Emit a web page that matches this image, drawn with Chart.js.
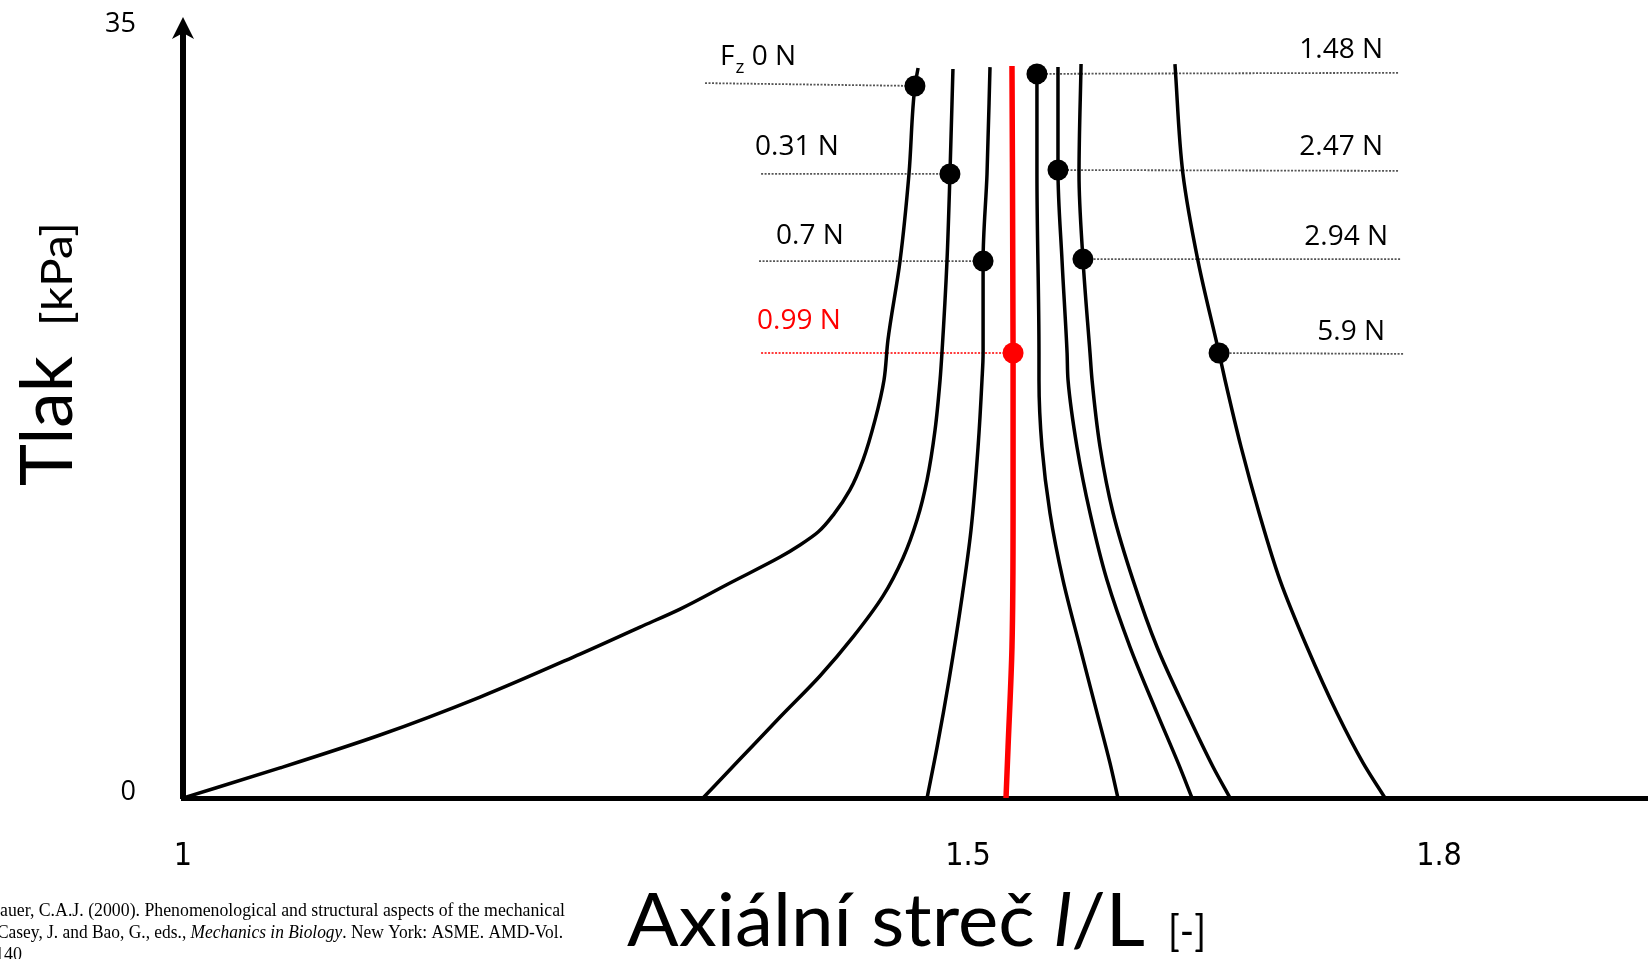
<!DOCTYPE html>
<html>
<head>
<meta charset="utf-8">
<script src="https://cdn.jsdelivr.net/npm/chart.js@4.4.1/dist/chart.umd.min.js"></script>
<style>
  html, body { margin: 0; padding: 0; background: #fff; overflow: hidden; }
  #wrap { position: relative; width: 1648px; height: 959px; }
</style>
</head>
<body>
<div id="wrap"><canvas id="chart" width="1648" height="959"></canvas></div>
<script>
// --- Data (axial stretch l/L, pressure kPa) ---
const xTicks = [1, 1.5, 1.8];
const yTicks = [0, 35];

const curveF0 = [[1.0000,0],[1.0618,1.37],[1.1255,2.87],[1.1892,4.60],[1.2529,6.56],[1.2911,7.79],[1.3166,8.61],
  [1.3484,9.80],[1.3803,10.98],[1.3930,11.53],[1.4045,12.12],[1.4146,12.94],[1.4248,14.04],[1.4331,15.40],
  [1.4408,17.23],[1.4465,19.05],[1.4490,20.87],[1.4567,24.47],[1.4624,28.44],[1.4662,32.45],[1.4682,33.27]];
const curveF031 = [[1.3312,0],[1.3554,1.82],[1.3803,3.69],[1.4057,5.56],[1.4268,7.34],[1.4459,9.21],[1.4586,10.94],
  [1.4675,12.67],[1.4739,14.49],[1.4790,16.77],[1.4822,19.05],[1.4834,20.28],[1.4866,24.47],[1.4885,28.44],[1.4904,33.22]];
const curveF07 = [[1.4739,0],[1.4803,2.32],[1.4879,5.38],[1.4962,9.16],[1.5019,12.21],[1.5064,16.00],[1.5089,19.05],
  [1.5096,20.28],[1.5096,24.47],[1.5121,28.44],[1.5140,33.31]];
const curveF099 = [[1.5242,0],[1.5255,2.32],[1.5280,6.88],[1.5287,12.99],[1.5287,20.28],[1.5280,33.36]];
const curveF148 = [[1.5955,0],[1.5904,1.60],[1.5822,3.87],[1.5713,6.88],[1.5605,9.93],[1.5522,12.99],[1.5471,16.00],
  [1.5452,19.05],[1.5452,20.28],[1.5439,28.44],[1.5439,33.00]];
const curveF247 = [[1.6427,0],[1.6338,1.60],[1.6204,3.87],[1.6032,6.88],[1.5885,9.93],[1.5777,12.99],[1.5694,16.00],
  [1.5637,19.05],[1.5631,20.28],[1.5599,24.47],[1.5573,28.62],[1.5573,33.31]];
const curveF294 = [[1.6669,0],[1.6561,1.41],[1.6395,3.87],[1.6204,6.88],[1.6051,9.93],[1.5924,12.99],[1.5841,16.00],
  [1.5790,19.05],[1.5777,20.28],[1.5732,24.56],[1.5707,28.44],[1.5720,33.45]];
const curveF59 = [[1.7656,0],[1.7516,1.60],[1.7350,3.87],[1.7159,6.88],[1.6987,9.93],[1.6854,12.99],[1.6739,16.00],
  [1.6637,19.05],[1.6599,20.28],[1.6465,24.47],[1.6369,28.44],[1.6318,33.45]];

const forceLabels = ['0 N', '0.31 N', '0.7 N', '0.99 N', '1.48 N', '2.47 N', '2.94 N', '5.9 N'];
const markerX = [1.4662, 1.4885, 1.5096, 1.5287, 1.5439, 1.5573, 1.5732, 1.6599];
const markerY = [32.45, 28.44, 24.47, 20.28, 33.00, 28.62, 24.56, 20.28];
// far end of each dotted line (the other end is the marker)
const guideFarX = [1.3325, 1.3682, 1.3669, 1.3682, 1.7739, 1.7739, 1.7752, 1.7771];
const guideFarY = [32.58, 28.44, 24.47, 20.28, 33.05, 28.58, 24.56, 20.24];

// --- styling / layout ---
const RED = '#ff0000';
const curves = [curveF0, curveF031, curveF07, curveF099, curveF148, curveF247, curveF294, curveF59];
const isRed = i => i === 3;
const labelDx = [15, -6, 17, -4, -15, -15, -12, -18];
const labelDy = [-18, -19, -17, -24, -15, -16, -14, -14];

const datasets = [];
datasets.push({
  data: markerX.map((x, i) => ({ x, y: markerY[i] })),
  showLine: false,
  pointRadius: 10.5,
  pointBackgroundColor: markerX.map((_, i) => isRed(i) ? RED : '#000'),
  pointBorderWidth: 0,
  order: 0
});
curves.forEach((c, i) => {
  datasets.push({
    data: c.map(p => ({ x: p[0], y: p[1] })),
    indexAxis: 'y',
    showLine: true,
    borderColor: isRed(i) ? RED : '#000',
    borderWidth: isRed(i) ? 5.5 : 3.5,
    pointRadius: 0,
    cubicInterpolationMode: 'monotone',
    order: isRed(i) ? 1 : 2
  });
});
markerX.forEach((x, i) => {
  datasets.push({
    data: [{ x: guideFarX[i], y: guideFarY[i] }, { x, y: markerY[i] }],
    showLine: true,
    borderColor: isRed(i) ? '#ff3a3a' : '#555',
    borderWidth: 1.8,
    borderDash: [2, 1.5],
    pointRadius: 0,
    tension: 0,
    order: 3
  });
});

function fitText(ctx, text, x, y, width) {
  const w = ctx.measureText(text).width;
  ctx.save();
  ctx.translate(x, y);
  ctx.scale(width / w, 1);
  ctx.fillText(text, 0, 0);
  ctx.restore();
}

const texts = {
  id: 'texts',
  afterDraw(chart) {
    const ctx = chart.ctx;
    const xs = chart.scales.x, ys = chart.scales.y;
    const top = chart.chartArea.top;
    const ax = xs.getPixelForValue(1);
    ctx.save();
    ctx.fillStyle = '#000';

    // arrow head on the pressure axis
    ctx.beginPath();
    ctx.moveTo(ax, top - 13);
    ctx.lineTo(ax + 11, top + 9);
    ctx.lineTo(ax, top + 3);
    ctx.lineTo(ax - 11, top + 9);
    ctx.closePath();
    ctx.fill();

    // force labels
    ctx.textBaseline = 'alphabetic';
    forceLabels.forEach((txt, i) => {
      const gx = xs.getPixelForValue(guideFarX[i]) + labelDx[i];
      const gy = ys.getPixelForValue(guideFarY[i]) + labelDy[i];
      ctx.fillStyle = isRed(i) ? RED : '#000';
      ctx.font = '28px "Open Sans"';
      if (i === 0) {
        ctx.textAlign = 'left';
        ctx.fillText('F', gx, gy);
        let x = gx + ctx.measureText('F').width + 1;
        ctx.font = '19px "Open Sans"';
        ctx.fillText('z', x, gy + 8);
        x += ctx.measureText('z').width;
        ctx.font = '28px "Open Sans"';
        ctx.fillText(' ' + txt, x, gy);
      } else {
        ctx.textAlign = i < 4 ? 'left' : 'right';
        ctx.fillText(txt, gx, gy);
      }
    });

    // x title
    ctx.fillStyle = '#000';
    ctx.textAlign = 'left';
    const tf = '"Lato", "Open Sans", sans-serif';
    const parts = [['Axiální streč ', '74px ' + tf], ['l', 'italic 74px ' + tf], ['/L', '74px ' + tf]];
    let total = 0;
    parts.forEach(p => { ctx.font = p[1]; total += ctx.measureText(p[0]).width; });
    const sx = 518 / total;
    ctx.save();
    ctx.translate(627, 946);
    ctx.scale(sx, 1);
    let px = 0;
    parts.forEach(p => { ctx.font = p[1]; ctx.fillText(p[0], px, 0); px += ctx.measureText(p[0]).width; });
    ctx.restore();
    ctx.font = '42px ' + tf;
    fitText(ctx, '[-]', 1168, 946, 38);

    // y title
    ctx.save();
    ctx.translate(72, 486);
    ctx.rotate(-Math.PI / 2);
    ctx.font = '72px ' + tf;
    fitText(ctx, 'Tlak', 0, 0, 130);
    ctx.font = '42px ' + tf;
    fitText(ctx, '[kPa]', 160, 0, 104);
    ctx.restore();

    // citation (cut at the left edge in the source)
    const serif = '"Liberation Serif", "Times New Roman", serif';
    ctx.font = '18px ' + serif;
    const l1 = 'auer, C.A.J. (2000). Phenomenological and structural aspects of the mechanical';
    fitText(ctx, l1, 0, 916, 565);
    const l2a = 'Casey, J. and Bao, G., eds., ', l2b = 'Mechanics in Biology', l2c = '. New York: ASME. AMD-Vol.';
    ctx.font = '18px ' + serif;
    const wa = ctx.measureText(l2a).width, wc = ctx.measureText(l2c).width;
    ctx.font = 'italic 18px ' + serif;
    const wb = ctx.measureText(l2b).width;
    const s2 = 566 / (wa + wb + wc);
    ctx.save();
    ctx.translate(-3, 938);
    ctx.scale(s2, 1);
    ctx.font = '18px ' + serif; ctx.fillText(l2a, 0, 0);
    ctx.font = 'italic 18px ' + serif; ctx.fillText(l2b, wa, 0);
    ctx.font = '18px ' + serif; ctx.fillText(l2c, wa + wb, 0);
    ctx.restore();
    ctx.font = '18px ' + serif;
    ctx.fillText('140', -5, 960);
    ctx.restore();
  }
};

new Chart(document.getElementById('chart'), {
  type: 'scatter',
  data: { datasets },
  options: {
    responsive: false,
    animation: false,
    events: [],
    layout: { autoPadding: false, padding: { top: 30, left: 0, right: 0, bottom: 0 } },
    plugins: { legend: { display: false }, tooltip: { enabled: false } },
    scales: {
      x: {
        type: 'linear', min: 1, max: 1.9331,
        // tick marks are hidden with the grid; their length only spaces the labels
        grid: { display: false, drawTicks: true, tickLength: 39 },
        border: { display: true, color: '#000', width: 5 },
        afterBuildTicks: s => { s.ticks = xTicks.map(v => ({ value: v })); },
        afterFit: s => { s.height = 161; },
        ticks: {
          color: '#000', padding: 0, maxRotation: 0,
          font: { family: '"Liberation Sans Narrow", "DejaVu Sans Condensed", sans-serif', size: 32 },
          callback: v => String(v)
        }
      },
      y: {
        type: 'linear', min: 0, max: 35,
        grid: { display: false, drawTicks: true, tickLength: 47 },
        border: { display: true, color: '#000', width: 6 },
        afterBuildTicks: s => { s.ticks = yTicks.map(v => ({ value: v })); },
        afterFit: s => { s.width = 183; },
        ticks: {
          color: '#000', padding: 0, labelOffset: -6,
          font: { family: '"Open Sans", sans-serif', size: 27 },
          callback: v => String(v)
        }
      }
    }
  },
  plugins: [texts]
});
</script>
</body>
</html>
